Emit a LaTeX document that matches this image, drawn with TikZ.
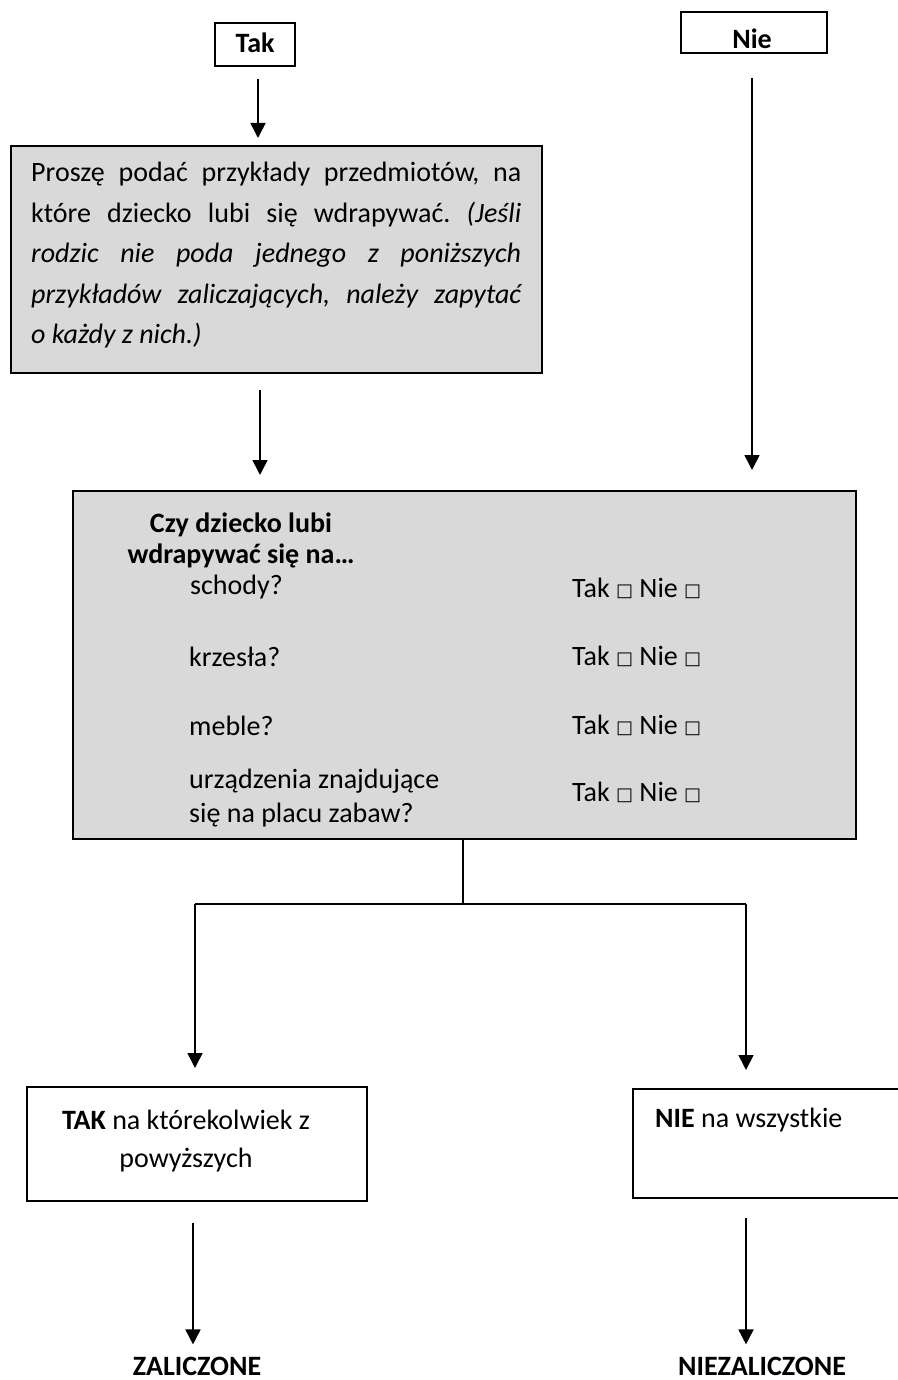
\documentclass[tikz,border=0pt]{standalone}
\usepackage{fontspec}
\setmainfont{Carlito}
\newfontfamily\boxfont{DejaVu Sans}
\usetikzlibrary{arrows.meta}
\usetikzlibrary{positioning}
\frenchspacing

\definecolor{boxgrey}{HTML}{D9D9D9}
\newcommand{\chkbox}{{\boxfont\fontsize{18}{18}\selectfont\raisebox{0.5pt}{□}}}
\newcommand{\taknie}{Tak \chkbox{} Nie \chkbox}

\tikzset{
  frame/.style={draw=black, line width=1.6pt, inner sep=0pt},
  greybox/.style={frame, fill=boxgrey},
  arr/.style={line width=1.6pt, -{Triangle[width=15pt,length=15pt]}},
  link/.style={line width=1.3pt},
  txt/.style={inner sep=0pt, font=\fontsize{28}{33}\selectfont},
  bold/.style={txt, font=\fontsize{28}{33}\selectfont\bfseries},
}

\begin{document}
\begin{tikzpicture}[x=1pt,y=-1pt]
\useasboundingbox (0,0) rectangle (897,1380);

% top answers
\node[frame, minimum width=80pt, minimum height=43pt, anchor=north west] (tak) at (214,22) {};
\node[bold, anchor=base] (taklabel) at (255,53) {Tak};
\node[frame, minimum width=146pt, minimum height=41pt, anchor=north west] (nie) at (680,11) {};
\node[bold, anchor=base] (nielabel) at (752,49) {Nie};

% prompt box
\node[greybox, anchor=north west, minimum width=531pt, minimum height=227pt] (prompt) at (10,145) {};
\node[txt, anchor=north west, text width=490pt, align=justify,
      font=\fontsize{28}{40.5}\selectfont] (prompttext) at (31,162) {%
\makebox[\linewidth][s]{Proszę podać przykłady przedmiotów, na}\\
\makebox[\linewidth][s]{które dziecko lubi się wdrapywać. \textit{(Jeśli}}\\
\makebox[\linewidth][s]{\itshape rodzic nie poda jednego z poniższych}\\
\makebox[\linewidth][s]{\itshape przykładów zaliczających, należy zapytać}\\
\textit{o każdy z nich.)}};

% question box
\node[greybox, anchor=north west, minimum width=783pt, minimum height=348pt] (question) at (72,490) {};
\node[bold, anchor=base, align=center, font=\fontsize{28}{31}\selectfont\bfseries] (head) at (241,563) {Czy dziecko lubi\\wdrapywać się na…};
\node[txt, anchor=base west] (stairs) at (190,594) {schody?};
\node[txt, anchor=base west] (chairs) at (189,666) {krzesła?};
\node[txt, anchor=base west] (furniture) at (189,735) {meble?};
\node[txt, anchor=base west, align=left, font=\fontsize{28}{34}\selectfont] (playground) at (189,822) {urządzenia znajdujące\\się na placu zabaw?};
\node[txt, anchor=base west] (ans1) at (572,597) {\taknie};
\node[txt, anchor=base west] (ans2) at (572,665) {\taknie};
\node[txt, anchor=base west] (ans3) at (572,734) {\taknie};
\node[txt, anchor=base west] (ans4) at (572,801) {\taknie};

% outcomes
\node[frame, anchor=north west, minimum width=340pt, minimum height=114pt] (yesbox) at (26,1086) {};
\node[txt, anchor=base, align=center, font=\fontsize{28}{38}\selectfont] (yestext) at (186,1167) {\textbf{TAK} na którekolwiek z\\powyższych};
\node[frame, anchor=north west, minimum width=270pt, minimum height=109pt] (nobox) at (632,1088) {};
\node[txt, anchor=base west] (notext) at (655,1127) {\textbf{NIE} na wszystkie};

\node[bold, anchor=base] (pass) at (197,1375) {ZALICZONE};
\node[bold, anchor=base] (fail) at (762,1375) {NIEZALICZONE};

% connectors
\coordinate (takout) at (258,79);
\coordinate (nieout) at (752,78);
\coordinate (promptout) at (260,390);
\coordinate (split) at (463,904);
\coordinate (splitL) at (195,904);
\coordinate (splitR) at (746,904);
\coordinate (yesout) at (193,1223);
\coordinate (noout) at (746,1218);

\draw[arr, shorten >=7pt] (takout) -- (takout |- prompt.north);
\draw[arr, shorten >=20pt] (nieout) -- (nieout |- question.north);
\draw[arr, shorten >=15pt] (promptout) -- (promptout |- question.north);
\draw[link] (question.south -| split) -- (split);
\draw[link] (splitL) -- (splitR);
\draw[arr, shorten >=18pt] (splitL) -- (splitL |- yesbox.north);
\draw[arr, shorten >=18pt] (splitR) -- (splitR |- nobox.north);
\draw[arr, shorten >=12pt] (yesout) -- (yesout |- pass.north);
\draw[arr, shorten >=12pt] (noout) -- (noout |- fail.north);
\end{tikzpicture}
\end{document}
